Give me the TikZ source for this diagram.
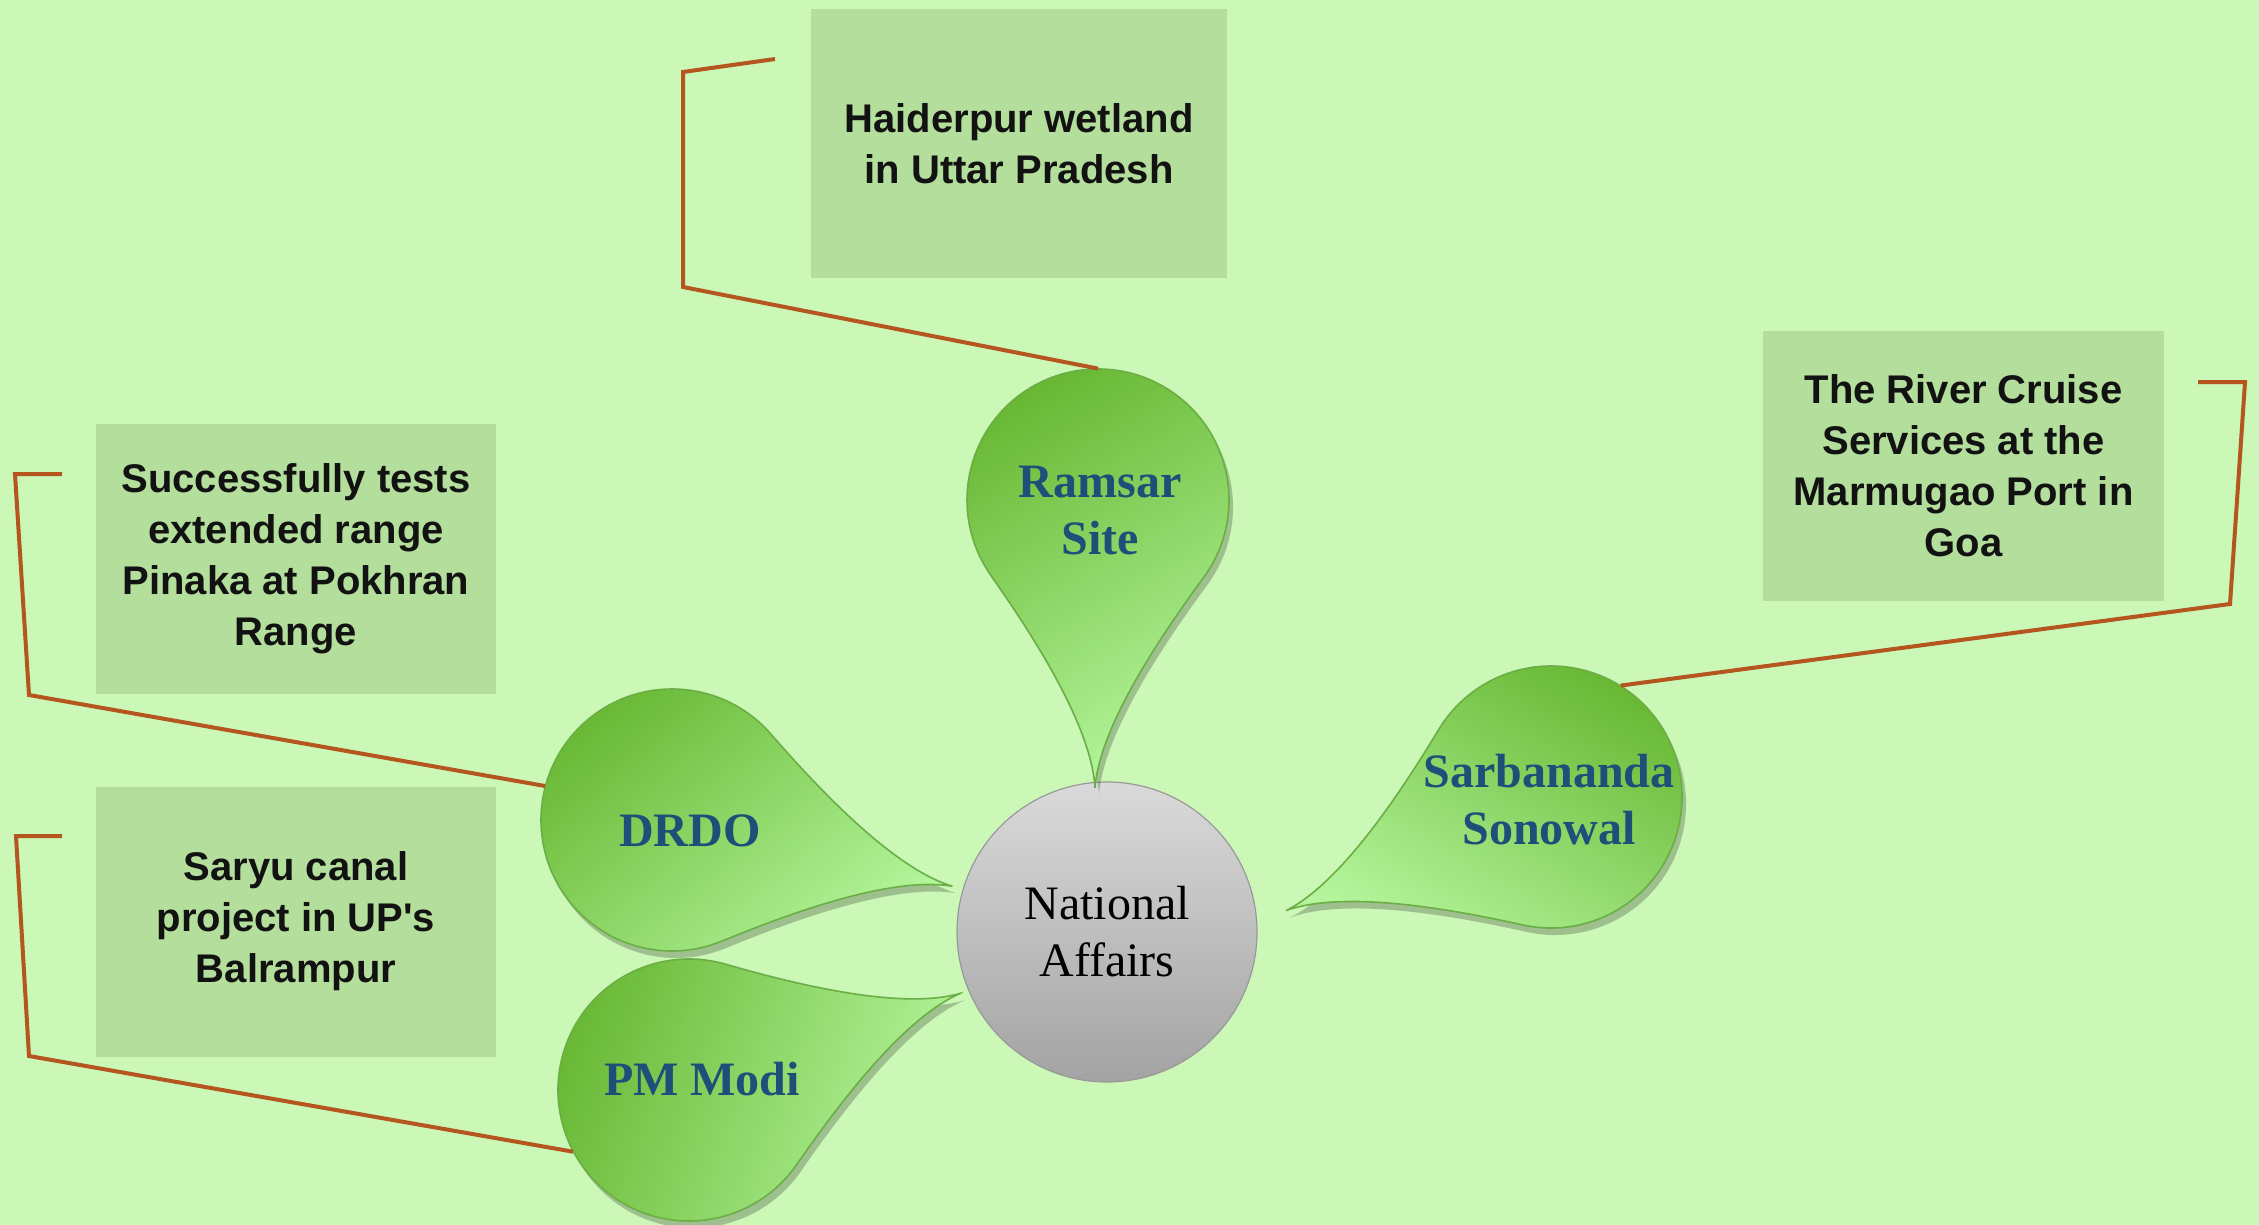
\documentclass[tikz,border=0pt]{standalone}
\usepackage{fontspec}
\setmainfont{Liberation Serif}
\newfontfamily\boxfont{Liberation Sans}
\definecolor{bg}{HTML}{CBF7B7}
\definecolor{boxfill}{HTML}{B4DE9B}
\definecolor{linkc}{HTML}{B5561F}
\definecolor{bubdark}{HTML}{68B834}
\definecolor{bublight}{HTML}{B4F59C}
\definecolor{bubedge}{HTML}{6AAE45}
\definecolor{bubtext}{HTML}{1F4E79}
\definecolor{hubtop}{HTML}{DADADA}
\definecolor{hubbot}{HTML}{A3A3A3}
\tikzset{
  infobox/.style={fill=boxfill, minimum width=200pt, minimum height=135pt, align=center,
    font=\boxfont\bfseries\fontsize{20}{25.5}\selectfont, text=black!93, inner sep=0pt},
  link/.style={draw=linkc, line width=2pt},
  bubtxt/.style={align=center, font=\bfseries\fontsize{24}{28.5}\selectfont, text=bubtext},
  bubanchor/.style={circle, minimum size=131pt, inner sep=0pt},
  tearpath/.style={insert path={(2.2*#1,0) .. controls (1.7*#1,0.03*#1) and (0.95*#1,0.55*#1) .. (55:#1)
     arc[start angle=55,end angle=305,radius=#1] .. controls (0.95*#1,-0.55*#1) and (1.7*#1,-0.03*#1) .. cycle}}
}
\newcommand\drawtear[4]{%
  \begin{scope}[shift={(#1+4,-#2-7)},rotate=#3]
    \fill[black,opacity=0.22,tearpath=131];
  \end{scope}
  \begin{scope}[shift={(#1,-#2)},rotate=#3]
    \shade[draw=bubedge,line width=0.8pt,top color=bubdark,bottom color=bublight,shading angle=#4,tearpath=131];
  \end{scope}}
\begin{document}
\begin{tikzpicture}[x=0.5pt,y=0.5pt]
\fill[bg] (0,0) rectangle (2259,-1225);
\useasboundingbox (0,0) rectangle (2259,-1225);

% info boxes
\node[infobox, minimum width=208pt, minimum height=134.5pt] (hbox) at (1019,-143.5) {Haiderpur wetland\\in Uttar Pradesh};
\node[infobox, minimum width=200.5pt] (rbox) at (1963.5,-466) {The River Cruise\\Services at the\\Marmugao Port in\\Goa};
\node[infobox] (sbox) at (296,-559) {Successfully tests\\extended range\\Pinaka at Pokhran\\Range};
\node[infobox] (ybox) at (296,-921.5) {Saryu canal\\project in UP's\\Balrampur};

% hub
\node[circle, minimum size=150pt, inner sep=0pt, top color=hubtop, bottom color=hubbot,
  draw=gray!80, line width=0.6pt, align=center, font=\fontsize{24}{28.5}\selectfont] (hub) at (1107,-932) {National\\Affairs};

% teardrops
\drawtear{1098}{500}{-90.6}{30}
\drawtear{672}{820}{-13.3}{40}
\drawtear{689}{1090}{19.6}{70}
\drawtear{1551}{797}{203.2}{-30}

\node[bubanchor] (ramsar) at (1098,-500) {};
\node[bubanchor] (drdo) at (672,-820) {};
\node[bubanchor] (pmmodi) at (689,-1090) {};
\node[bubanchor] (sarb) at (1551,-797) {};

\node[bubtxt] (ramsart) at (1100,-511) {Ramsar\\Site};
\node[bubtxt] (drdot) at (690,-831) {DRDO};
\node[bubtxt] (pmmodit) at (702,-1079) {PM Modi};
\node[bubtxt] (sarbt) at (1549,-800) {Sarbananda\\Sonowal};

% connectors
\coordinate (h1) at (775,-59);
\coordinate (r1) at (2198,-382);
\coordinate (s1) at (62,-474);
\coordinate (y1) at (62,-836);
\draw[link] (h1) -- (683,-72) -- (683,-287) -- (ramsar.north);
\draw[link] (r1) -- (2245,-382) -- (2230,-604) -- (sarb.58);
\draw[link] (s1) -- (15,-474) -- (29,-695) -- (drdo.165);
\draw[link] (y1) -- (16,-836) -- (29,-1056) -- (pmmodi.208);
\end{tikzpicture}
\end{document}
